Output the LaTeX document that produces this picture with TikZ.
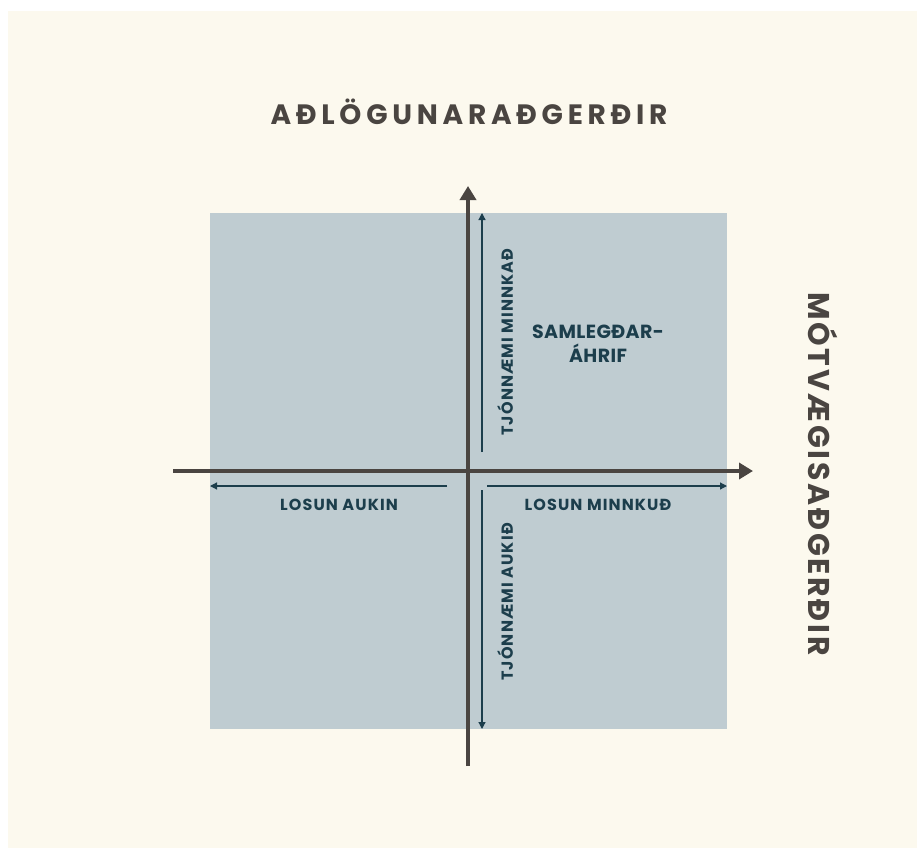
\documentclass[tikz,border=0pt]{standalone}
\usepackage{fontspec}
\setmainfont{Poppins}
\usetikzlibrary{arrows.meta}
\definecolor{cream}{HTML}{FCF9EE}
\definecolor{bluebg}{HTML}{BFCCD1}
\definecolor{axisgray}{HTML}{4A4541}
\definecolor{teal}{HTML}{1C3E4C}
\begin{document}
\begin{tikzpicture}[x=1pt,y=-1pt,
  axis/.style={draw=axisgray,line width=4pt,-{Triangle[width=16pt,length=14pt]}},
  thin/.style={draw=teal,line width=1.2pt,-{Triangle[width=7pt,length=7pt]}},
  lbl/.style={text=teal,font=\bfseries\fontsize{16}{18}\selectfont\addfontfeatures{LetterSpace=7},inner sep=0pt},
  title/.style={text=axisgray,inner sep=0pt}]
\useasboundingbox (0,0) rectangle (917,848);
\fill[white] (0,0) rectangle (917,848);
\fill[cream] (8,11) rectangle (917,848);
\fill[bluebg] (210,213) rectangle (727,729);
% axes
\coordinate (yb) at (468,766);
\coordinate (yt) at (468,186);
\coordinate (xl) at (173,471);
\coordinate (xr) at (753,471);
\draw[axis] (yb) -- (yt);
\draw[axis] (xl) -- (xr);
% thin arrows
\coordinate (a1s) at (482,452);
\coordinate (a1e) at (482,213);
\coordinate (a2s) at (482,490);
\coordinate (a2e) at (482,729);
\coordinate (a3s) at (447,486);
\coordinate (a3e) at (210,486);
\coordinate (a4s) at (487,486);
\coordinate (a4e) at (727,486);
\draw[thin] (a1s) -- (a1e);
\draw[thin] (a2s) -- (a2e);
\draw[thin] (a3s) -- (a3e);
\draw[thin] (a4s) -- (a4e);
% labels
\node[title,font=\bfseries\fontsize{28}{30}\selectfont\addfontfeatures{LetterSpace=17}] (t1) at (469,112) {AÐLÖGUNARAÐGERÐIR};
\node[title,rotate=-90,font=\bfseries\fontsize{30}{32}\selectfont\addfontfeatures{LetterSpace=9}] (t2) at (823,474) {MÓTVÆGISAÐGERÐIR};
\node[lbl] (l1) at (339,505) {LOSUN AUKIN};
\node[lbl] (l2) at (598,505) {LOSUN MINNKUÐ};
\node[lbl,rotate=90] (l3) at (505,342) {TJÓNNÆMI MINNKAÐ};
\node[lbl,rotate=90] (l4) at (505,602) {TJÓNNÆMI AUKIÐ};
\node[lbl,font=\bfseries\fontsize{19}{24}\selectfont\addfontfeatures{LetterSpace=2},align=center] (l5) at (598,344) {SAMLEGÐAR-\\ÁHRIF};
\end{tikzpicture}
\end{document}
